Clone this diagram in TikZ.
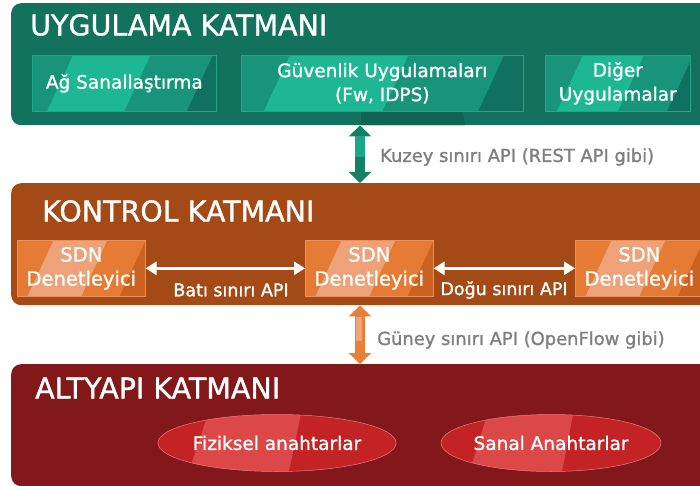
\documentclass[tikz,border=0pt]{standalone}
\usepackage{fontspec}
\setmainfont{DejaVu Sans}
\newfontfamily\labelfont{DejaVu Sans}[FakeBold=1.2]
\usetikzlibrary{arrows.meta,calc,shapes.geometric}

% layer colours
\definecolor{grnPanel}{HTML}{12725E}
\definecolor{grnPanelDk}{HTML}{0F6552}
\definecolor{grnPanelLt}{HTML}{157D67}
\definecolor{grnBox}{HTML}{17947A}
\definecolor{grnBoxLt}{HTML}{1DB794}
\definecolor{grnBoxDk}{HTML}{117160}
\definecolor{grnArrow}{HTML}{1CA686}
\definecolor{grnArrowDk}{HTML}{148066}
\definecolor{orgPanel}{HTML}{A44A16}
\definecolor{orgPanelLt}{HTML}{AE5219}
\definecolor{orgBox}{HTML}{E67B35}
\definecolor{orgBoxLt}{HTML}{EDA27A}
\definecolor{orgBoxDk}{HTML}{CC6220}
\definecolor{orgArrow}{HTML}{E8803A}
\definecolor{orgArrowLt}{HTML}{F0A775}
\definecolor{redPanel}{HTML}{82181A}
\definecolor{redPanelLt}{HTML}{8A1C1D}
\definecolor{redEll}{HTML}{C42326}
\definecolor{redEllLt}{HTML}{DC4747}
\definecolor{apiText}{HTML}{7F7F7F}

\tikzset{
  panel/.style={rounded corners=10pt, anchor=north west, inner sep=0pt, draw=none},
  layertitle/.style={anchor=west, text=white, font=\labelfont\fontsize{28.5}{30}\selectfont, inner sep=0pt},
  % slanted light band and darker right end inside a box
  bands/.style n args={3}{
    path picture={
      \coordinate (bbnw) at (path picture bounding box.north west);
      \coordinate (bbse) at (path picture bounding box.south east);
      \coordinate (bbsw) at (path picture bounding box.south west);
      \coordinate (bbne) at (path picture bounding box.north east);
      \fill[#1] ($(bbsw)!0.08!(bbse)$) -- ($(bbsw)!0.50!(bbse)$)
                -- ($($(bbnw)!0.50!(bbne)$)+(26,0)$) -- ($($(bbnw)!0.08!(bbne)$)+(26,0)$) -- cycle;
      \fill[#2] ($(bbsw)!#3!(bbse)$) -- (bbse) -- (bbne)
                -- ($($(bbnw)!#3!(bbne)$)+(26,0)$) -- cycle;
    }},
  appbox/.style={fill=grnBox, draw=grnBoxLt!60!grnBox, line width=0.6pt,
    minimum height=56pt, inner sep=0pt, anchor=north west, text=white,
    align=center, font=\labelfont\fontsize{18.5}{24}\selectfont,
    bands={grnBoxLt}{grnBoxDk}{0.84}},
  sdnbox/.style={fill=orgBox, draw=orgBoxLt!60!orgBox, line width=0.6pt,
    minimum width=128pt, minimum height=56pt, inner sep=0pt, anchor=north west,
    text=white, align=center, font=\labelfont\fontsize{19.5}{24}\selectfont,
    bands={orgBoxLt}{orgBoxDk}{0.80}},
  switch/.style={ellipse, fill=redEll, draw=redEllLt!70!white, line width=0.5pt,
    minimum width=220pt, minimum height=57pt, inner sep=0pt, text=white,
    font=\labelfont\fontsize{18.5}{20}\selectfont,
    path picture={
      \coordinate (bbnw) at (path picture bounding box.north west);
      \coordinate (bbse) at (path picture bounding box.south east);
      \coordinate (bbsw) at (path picture bounding box.south west);
      \coordinate (bbne) at (path picture bounding box.north east);
      \fill[redEllLt] ($(bbsw)!0.13!(bbse)$) -- ($(bbsw)!0.55!(bbse)$)
          -- ($(bbne)!0.40!(bbnw)$) -- ($(bbnw)!0.21!(bbne)$) -- cycle;
    }},
  apilabel/.style={text=apiText, font=\labelfont\fontsize{17.9}{20}\selectfont, anchor=west, inner sep=0pt},
  eastwest/.style={text=white, font=\labelfont\fontsize{17.5}{18}\selectfont, inner sep=0pt},
  sidearrow/.style={draw=white, line width=3pt,
    {Triangle[width=13pt,length=11pt]}-{Triangle[width=13pt,length=11pt]}},
  bigarrow/.style={line width=10pt,
    {Triangle[width=22pt,length=11pt]}-{Triangle[width=22pt,length=11pt]}},
}

\begin{document}
\begin{tikzpicture}[x=1pt,y=-1pt]
\useasboundingbox (0,0) rectangle (700,486);
\fill[white] (0,0) rectangle (700,486);

\begin{scope}
\clip (0,0) rectangle (700,486);

% ---------- application layer ----------
\node[panel, fill=grnPanel, minimum width=700pt, minimum height=122pt,
  path picture={
    \fill[grnPanelDk] (0,0) -- (92,0) -- (118,130) -- (0,130) -- cycle;
    \fill[grnPanelLt] (340,0) -- (380,0) -- (410,130) -- (372,130) -- cycle;
  }] (app) at (11,3) {};
\node[layertitle] (appt) at (30,25) {UYGULAMA KATMANI};

\node[appbox, minimum width=184pt] (ag) at (32,55) {Ağ Sanallaştırma};
\node[appbox, minimum width=282pt] (guv) at (241,55) {Güvenlik Uygulamaları\\(Fw, IDPS)};
\node[appbox, minimum width=145pt] (dig) at (545,55) {Diğer\\Uygulamalar};

% ---------- control layer ----------
\node[panel, fill=orgPanel, minimum width=700pt, minimum height=122pt,
  path picture={
    \fill[orgPanelLt] (0,180) -- (262,180) -- (240,310) -- (0,310) -- cycle;
  }] (ctl) at (11,183) {};
\node[layertitle] (ctlt) at (42,211) {KONTROL KATMANI};

\node[sdnbox] (sdn1) at (17,240) {SDN\\Denetleyici};
\node[sdnbox] (sdn2) at (305,240) {SDN\\Denetleyici};
\node[sdnbox] (sdn3) at (575,240) {SDN\\Denetleyici};

\draw[sidearrow] (sdn1.east) -- (sdn2.west);
\draw[sidearrow] (sdn2.east) -- (sdn3.west);
\node[eastwest] (bati) at (231,290) {Batı sınırı API};
\node[eastwest] (dogu) at (504,290) {Doğu sınırı API};

% ---------- infrastructure layer ----------
\node[panel, fill=redPanel, minimum width=700pt, minimum height=122pt,
  path picture={
    \fill[redPanelLt] (240,360) -- (700,360) -- (700,490) -- (215,490) -- cycle;
  }] (inf) at (11,364) {};
\node[layertitle] (inft) at (35,388) {ALTYAPI KATMANI};

\node[switch] (fiz) at (277,443) {Fiziksel anahtarlar};
\node[switch] (san) at (551,443) {Sanal Anahtarlar};

% ---------- northbound / southbound interfaces ----------
\coordinate (nTop) at (app.south -| 360,0);
\coordinate (nBot) at (ctl.north -| 360,0);
\coordinate (sTop) at (ctl.south -| 360,0);
\coordinate (sBot) at (inf.north -| 360,0);

\draw[bigarrow, draw=grnArrowDk, fill=grnArrowDk] (nTop) -- (nBot);
\draw[line width=10pt, draw=grnArrow] ($(nTop)+(0,11)$) -- ($(nTop)!0.55!(nBot)$);
\draw[bigarrow, draw=orgArrow, fill=orgArrow] (sTop) -- (sBot);
\draw[line width=6pt, draw=orgArrowLt] ($(sTop)+(-1,12)$) -- ($(sTop)!0.6!(sBot)+(-1,0)$);

\node[apilabel] (kuzey) at (380,157) {Kuzey sınırı API (REST API gibi)};
\node[apilabel] (guney) at (377,340) {Güney sınırı API (OpenFlow gibi)};
\end{scope}
\end{tikzpicture}
\end{document}
